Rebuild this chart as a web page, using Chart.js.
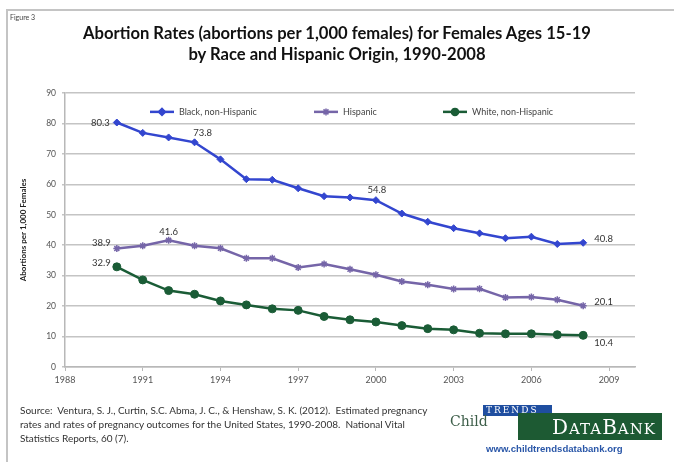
<!DOCTYPE html>
<html>
<head>
<meta charset="utf-8">
<script src="https://cdn.jsdelivr.net/npm/chart.js@4.4.1/dist/chart.umd.min.js"></script>
<style>
html,body{margin:0;padding:0;background:#fff;}
#wrap{position:relative;width:674px;height:462px;overflow:hidden;font-family:Lato,"Open Sans",sans-serif;}
#frame{position:absolute;left:6px;top:9px;width:680px;height:470px;border-left:2px solid #c4c4c4;border-top:2px solid #c4c4c4;}
#fig{position:absolute;left:10px;top:13px;font-size:7px;color:#444;}
#title{position:absolute;left:0;top:23px;width:674px;text-align:center;font-weight:bold;font-size:16.6px;line-height:21px;color:#111;}
#source{position:absolute;left:20px;top:403px;font-size:10px;line-height:14px;color:#333;}
#logo{position:absolute;left:448px;top:400px;width:220px;height:60px;}
#child{position:absolute;left:2px;top:13px;font-family:"DejaVu Serif",serif;font-size:14px;color:#3e5f4a;}
#trends{position:absolute;left:35px;top:5px;width:69px;height:11px;background:#1f4ea0;color:#fff;font-family:"DejaVu Serif",serif;font-size:9px;line-height:11px;letter-spacing:2px;padding-left:3px;box-sizing:border-box;}
#bank{position:absolute;left:70px;top:13px;width:144px;height:27px;background:#1d5a33;color:#fff;font-family:"DejaVu Serif",serif;font-size:20px;line-height:28px;text-align:right;padding-right:6px;box-sizing:border-box;letter-spacing:1px;}
#bank small{font-size:15px;}
#url{position:absolute;left:38px;top:43px;font-family:"Liberation Sans",Arial,sans-serif;font-weight:bold;font-size:9.6px;color:#2a57a8;}
</style>
</head>
<body>
<div id="wrap">
  <canvas id="chart" width="674" height="462" style="position:absolute;left:0;top:0;"></canvas>
  <div id="frame"></div>
  <div id="fig">Figure 3</div>
  <div id="title">Abortion Rates (abortions per 1,000 females) for Females Ages 15-19<br>by Race and Hispanic Origin, 1990-2008</div>
  <div id="source">Source:&nbsp; Ventura, S. J., Curtin, S.C. Abma, J. C., &amp; Henshaw, S. K. (2012).&nbsp; Estimated pregnancy<br>rates and rates of pregnancy outcomes for the United States, 1990-2008.&nbsp; National Vital<br>Statistics Reports, 60 (7).</div>
  <div id="logo">
    <div id="trends">TRENDS</div>
    <div id="bank">D<small>ATA</small>B<small>ANK</small></div>
    <div id="child">Child</div>
    <div id="url">www.childtrendsdatabank.org</div>
  </div>
</div>
<script>
const years=[1990,1991,1992,1993,1994,1995,1996,1997,1998,1999,2000,2001,2002,2003,2004,2005,2006,2007,2008];
const black=[80.3,76.9,75.4,73.8,68.2,61.7,61.5,58.7,56.1,55.7,54.8,50.4,47.7,45.6,43.9,42.3,42.8,40.4,40.8];
const hispanic=[38.9,39.8,41.6,39.8,39.0,35.7,35.7,32.7,33.8,32.1,30.3,28.1,27.0,25.6,25.7,22.8,23.0,22.1,20.1];
const white=[32.9,28.6,25.1,23.9,21.7,20.4,19.1,18.6,16.6,15.5,14.8,13.6,12.6,12.2,11.1,10.9,10.9,10.6,10.4];
const seriesNames=['Black, non-Hispanic','Hispanic','White, non-Hispanic'];
const seriesColors=['#3346cf','#7565a8','#1a5c36'];
const seriesMarkers=['rectRot','star','circle'];
const yTicks=[0,10,20,30,40,50,60,70,80,90];
const xTicks=[1988,1991,1994,1997,2000,2003,2006,2009];

// labelled points: [series, index, dx, dy, align]
const labelSpots=[
  [0,0,-7,0,'right'],[0,3,8,-9,'center'],[0,10,1,-10,'center'],[0,18,11,-4,'left'],
  [1,0,-6,-6,'right'],[1,2,0,-8,'center'],[1,18,11,-4,'left'],
  [2,0,-6,-4,'right'],[2,18,11,8,'left']
];
const allSeries=[black,hispanic,white];

function pts(vals){return years.map((y,i)=>({x:y,y:vals[i]}));}

const labelPlugin={
  id:'pointLabels',
  afterDatasetsDraw(chart){
    const ctx=chart.ctx;
    ctx.save();
    ctx.font='9.5px Lato, sans-serif';
    ctx.fillStyle='#333';
    ctx.textBaseline='middle';
    labelSpots.forEach(([s,i,dx,dy,al])=>{
      const el=chart.getDatasetMeta(s).data[i];
      ctx.textAlign=al;
      ctx.fillText(allSeries[s][i].toFixed(1),el.x+dx,el.y+dy);
    });
    ctx.restore();
  }
};

const legendPlugin={
  id:'innerLegend',
  afterDatasetsDraw(chart){
    const ctx=chart.ctx;
    const y=chart.scales.y.getPixelForValue(83.8);
    const starts=[150,314,443];
    ctx.save();
    ctx.font='9px Lato, sans-serif';
    ctx.textBaseline='middle';
    seriesNames.forEach((n,k)=>{
      const x0=starts[k];
      ctx.strokeStyle=seriesColors[k];ctx.lineWidth=2.5;
      ctx.beginPath();ctx.moveTo(x0,y);ctx.lineTo(x0+24,y);ctx.stroke();
      ctx.fillStyle=seriesColors[k];ctx.lineWidth=1.5;
      Chart.helpers.drawPoint(ctx,{pointStyle:seriesMarkers[k],radius:3.5,borderWidth:1.5,rotation:0},x0+12,y);
      ctx.fillStyle='#444';ctx.textAlign='left';
      ctx.fillText(n,x0+29,y);
    });
    ctx.restore();
  }
};

new Chart(document.getElementById('chart'),{
  type:'line',
  data:{datasets:[0,1,2].map(k=>({
    label:seriesNames[k],
    data:pts(allSeries[k]),
    borderColor:seriesColors[k],
    backgroundColor:seriesColors[k],
    borderWidth:2.5,
    pointStyle:seriesMarkers[k],
    pointRadius:k===2?4:3.5,
    pointBorderWidth:k===1?1.5:1,
    tension:0
  }))},
  options:{
    responsive:false,animation:false,
    layout:{padding:{left:0,top:93,right:39,bottom:65}},
    plugins:{legend:{display:false},tooltip:{enabled:false}},
    scales:{
      x:{type:'linear',min:1988,max:2010,
        afterFit(s){s.height=30;},
        afterBuildTicks(s){s.ticks=xTicks.map(v=>({value:v}));},
        grid:{drawOnChartArea:false,drawTicks:true,tickLength:4,color:'#b8b8b8'},
        border:{color:'#b8b8b8',width:1.5},
        ticks:{autoSkip:false,maxRotation:0,padding:4,color:'#555',font:{family:'Lato',size:9},callback:v=>String(v)}},
      y:{min:0,max:90,
        afterFit(s){s.width=65;},
        afterBuildTicks(s){s.ticks=yTicks.map(v=>({value:v}));},
        grid:{color:'#c4c4c4',lineWidth:1.5,tickLength:3},
        border:{color:'#b8b8b8',width:1.5},
        ticks:{padding:6,color:'#555',font:{family:'Lato',size:8.5}},
        title:{display:true,text:'Abortions per 1,000 Females',color:'#222',font:{family:'Lato',size:8,weight:'bold'},padding:{top:19,bottom:0}}}
    }
  },
  plugins:[labelPlugin,legendPlugin]
});
</script>
</body>
</html>
